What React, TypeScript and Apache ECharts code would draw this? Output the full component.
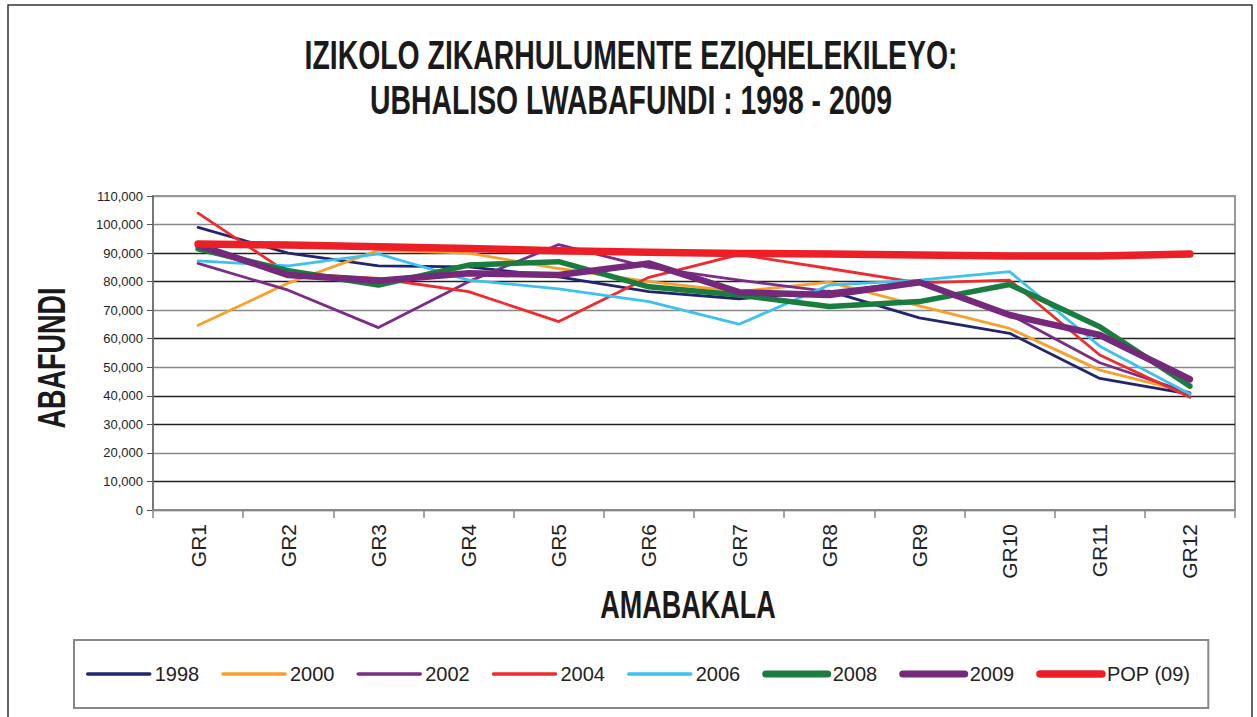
import React, { useEffect, useRef } from "react";
import * as echarts from "echarts";

const categories = ["GR1", "GR2", "GR3", "GR4", "GR5", "GR6", "GR7", "GR8", "GR9", "GR10", "GR11", "GR12"];

const y1998 = [99000, 90000, 85500, 85200, 81700, 76500, 74000, 76700, 67300, 61900, 46100, 40600];
const y2000 = [64700, 79500, 91000, 90000, 84600, 80000, 76500, 79800, 71500, 63600, 49000, 41100];
const y2002 = [86400, 77000, 63900, 80000, 93000, 85000, 80500, 76500, 80000, 68500, 51600, 41000];
const y2004 = [104000, 83000, 81100, 76500, 66000, 81500, 89500, 84600, 79600, 80500, 54300, 39500];
const y2006 = [87300, 85500, 89700, 80500, 77500, 73000, 65100, 78800, 80500, 83500, 57400, 40600];
const y2008 = [91500, 83800, 78800, 85800, 87000, 78200, 75300, 71300, 73000, 79000, 64200, 43400];
const y2009 = [92800, 82300, 80300, 82900, 82300, 86400, 76300, 75300, 79800, 68300, 61300, 45800];
const pop09 = [93200, 92800, 92200, 91600, 90800, 90300, 89900, 89700, 89300, 89000, 89000, 89700];

const seriesNames = ["1998", "2000", "2002", "2004", "2006", "2008", "2009", "POP (09)"];
const seriesData = [y1998, y2000, y2002, y2004, y2006, y2008, y2009, pop09];
const seriesColors = ["#23246e", "#f7a12c", "#7b2c86", "#ee2b2f", "#3dc1ee", "#1b7c3f", "#75297a", "#ec1f27"];
const seriesWidths = [2.8, 2.8, 2.8, 2.8, 2.8, 5.5, 6.5, 7.5];
const legendWidths = [3.5, 3.5, 3.5, 3.5, 3.5, 7, 7, 7.5];

const titleLines = ["IZIKOLO ZIKARHULUMENTE EZIQHELEKILEYO:", "UBHALISO LWABAFUNDI : 1998 - 2009"];
const xName = "AMABAKALA";
const yName = "ABAFUNDI";

export default function App() {
  const ref = useRef<HTMLDivElement>(null);

  useEffect(() => {
    if (!ref.current) return;
    const chart = echarts.init(ref.current, null, { renderer: "svg" });
    const condensed = "'Liberation Sans', Arial, sans-serif";
    const option: any = {
      animation: false,
      backgroundColor: "#ffffff",
      graphic: [
        {
          type: "rect",
          shape: { x: 8, y: 5, width: 1244, height: 720 },
          style: { fill: "none", stroke: "#333", lineWidth: 1.5 },
          silent: true,
        },
        {
          type: "text",
          x: 631,
          y: 55,
          scaleX: 0.71,
          style: {
            text: titleLines[0],
            fontSize: 40,
            fontWeight: "bold",
            fontFamily: condensed,
            fill: "#1a1a1a",
            align: "center",
            verticalAlign: "middle",
          },
        },
        {
          type: "text",
          x: 631,
          y: 100,
          scaleX: 0.71,
          style: {
            text: titleLines[1],
            fontSize: 40,
            fontWeight: "bold",
            fontFamily: condensed,
            fill: "#1a1a1a",
            align: "center",
            verticalAlign: "middle",
          },
        },
        {
          type: "text",
          x: 688,
          y: 605,
          scaleX: 0.71,
          style: {
            text: xName,
            fontSize: 38,
            fontWeight: "bold",
            fontFamily: condensed,
            fill: "#1a1a1a",
            align: "center",
            verticalAlign: "middle",
          },
        },
        {
          type: "text",
          x: 52,
          y: 358,
          rotation: Math.PI / 2,
          scaleX: 0.71,
          style: {
            text: yName,
            fontSize: 38,
            fontWeight: "bold",
            fontFamily: condensed,
            fill: "#1a1a1a",
            align: "center",
            verticalAlign: "middle",
          },
        },
      ],
      grid: {
        left: 153,
        right: 22,
        top: 196,
        bottom: 207,
        show: true,
        borderColor: "#999",
        borderWidth: 2,
      },
      legend: {
        left: 74,
        top: 640,
        width: 1160,
        padding: [24, 18, 24, 12],
        itemWidth: 62,
        itemHeight: 16,
        itemGap: 22,
        borderColor: "#888",
        borderWidth: 2,
        itemStyle: { opacity: 0 },
        textStyle: {
          fontFamily: "'Liberation Sans', Arial, sans-serif",
          fontSize: 20,
          color: "#222",
        },
        data: seriesNames.map((n, i) => ({
          name: n,
          lineStyle: { width: legendWidths[i], color: seriesColors[i], cap: "round" },
        })),
      },
      xAxis: {
        type: "category",
        data: categories,
        boundaryGap: true,
        axisLine: { lineStyle: { color: "#888", width: 2 } },
        axisTick: { show: true, length: 8, lineStyle: { color: "#888", width: 1.5 } },
        axisLabel: {
          rotate: 90,
          margin: 14,
          fontSize: 21,
          fontFamily: "'Liberation Sans', Arial, sans-serif",
          color: "#222",
        },
        splitLine: { show: false },
      },
      yAxis: {
        type: "value",
        min: 0,
        max: 110000,
        interval: 10000,
        axisLine: { show: true, lineStyle: { color: "#777", width: 2 } },
        axisTick: { show: true, length: 6, lineStyle: { color: "#555", width: 1 } },
        axisLabel: {
          margin: 10,
          fontSize: 13,
          fontFamily: "'Liberation Sans', Arial, sans-serif",
          color: "#222",
          formatter: (v: number) => v.toLocaleString("en-US"),
        },
        splitLine: {
          show: true,
          lineStyle: {
            width: 1.3,
            color: ["#555", "#222", "#888", "#222", "#222", "#888", "#222", "#888", "#222", "#222", "#888", "#999"],
          },
        },
      },
      series: seriesNames.map((n, i) => ({
        name: n,
        type: "line",
        data: seriesData[i],
        showSymbol: false,
        symbol: "none",
        lineStyle: { width: seriesWidths[i], color: seriesColors[i], cap: "round", join: "round" },
        itemStyle: { color: seriesColors[i] },
        emphasis: { disabled: true },
      })),
    };
    chart.setOption(option);
    return () => {
      chart.dispose();
    };
  }, []);

  return (
    <div
      ref={ref}
      style={{ position: "absolute", left: 0, top: 0, width: 1257, height: 717 }}
    />
  );
}
